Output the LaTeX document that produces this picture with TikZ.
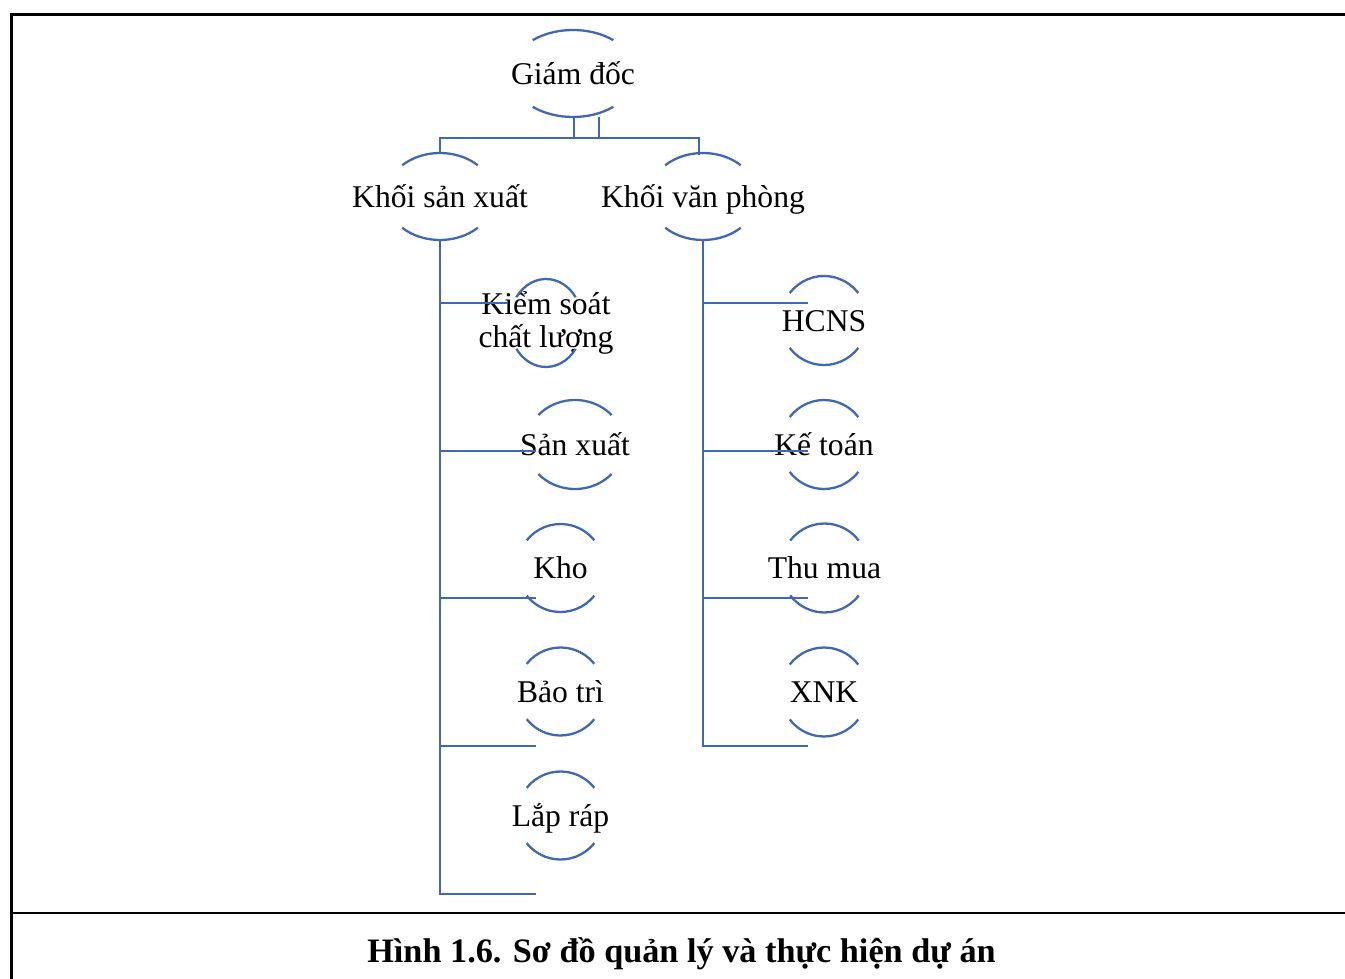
\documentclass[tikz,border=0pt]{standalone}
\usepackage{fontspec}
\setmainfont{Liberation Serif}
\usetikzlibrary{calc}
\definecolor{smartblue}{RGB}{62,104,178}
\tikzset{
  ring/.style={draw=smartblue,line width=1.3pt},
  link/.style={draw=smartblue,line width=1.3pt},
  unit/.style={inner sep=0pt,text height=14pt,text depth=2pt,font=\fontsize{18}{19}\selectfont},
  frame/.style={line width=1.4pt}
}
% top and bottom arc round a unit: node, x radius, y radius, angle
\newcommand\ringarcs[4]{%
  \draw[ring](#1.center)++(180+#4:#2 and #3)arc[start angle=180+#4,end angle=360-#4,x radius=#2,y radius=#3];
  \draw[ring](#1.center)++(#4:#2 and #3)arc[start angle=#4,end angle=180-#4,x radius=#2,y radius=#3];
}
\begin{document}
\begin{tikzpicture}[x=0.02cm,y=-0.02cm]
\useasboundingbox(0,0)rectangle(1345,979);
\draw[frame](1345,14.5)--(11.5,14.5)--(11.5,979);
\draw[frame](11.5,913)--(1345,913);
%
\node[unit](gd) at (573,73.5){Giám đốc};
\node[unit](ksx) at (440,196.5){Khối sản xuất};
\node[unit](kvp) at (703,196.5){Khối văn phòng};
\ringarcs{gd}{62.7}{43.5}{50}
\ringarcs{ksx}{54.3}{43.5}{46}
\ringarcs{kvp}{54.3}{43.5}{46}
%
\node[inner sep=0pt,align=center,font=\fontsize{18}{19}\selectfont](ks) at (546,323){Kiểm soát\\chất lượng};
\node[unit](sx) at (575,444.5){Sản xuất};
\node[unit](kho) at (560.5,568){Kho};
\node[unit](bt) at (560.5,691.5){Bảo trì};
\node[unit](lr) at (560.5,815.5){Lắp ráp};
\ringarcs{ks}{36.6}{44}{36}
\ringarcs{sx}{48.8}{44.5}{41.5}
\ringarcs{kho}{43.5}{44}{39}
\ringarcs{bt}{43.5}{44}{39}
\ringarcs{lr}{43.5}{44}{39}
%
\node[unit](hc) at (824,320.5){HCNS};
\node[unit](kt) at (824,444.5){Kế toán};
\node[unit](tm) at (824.5,568){Thu mua};
\node[unit](xnk) at (824,692){XNK};
\ringarcs{hc}{43.5}{44.5}{38}
\ringarcs{kt}{43.5}{44.5}{38}
\ringarcs{tm}{43.5}{44.5}{38}
\ringarcs{xnk}{43.5}{44.5}{38}
%
\draw[link]($(gd.center)+(1,43.5)$)--++(0,21)-|($(kvp.center)+(-4,-41.5)$);
\draw[link]($(gd.center)+(26,43.5)$)--++(0,21)-|($(ksx.center)+(0,-43.5)$);
%
\coordinate(ks-in) at (508,303);
\coordinate(sx-in) at (536,451);
\coordinate(kho-in) at (536,598);
\coordinate(bt-in) at (536,746);
\coordinate(lr-in) at (536,894);
\draw[link]($(ksx.center)+(0,43.5)$)|-(ks-in);
\draw[link]($(ksx.center)+(0,43.5)$)|-(sx-in);
\draw[link]($(ksx.center)+(0,43.5)$)|-(kho-in);
\draw[link]($(ksx.center)+(0,43.5)$)|-(bt-in);
\draw[link]($(ksx.center)+(0,43.5)$)|-(lr-in);
%
\coordinate(hc-in) at (808,303);
\coordinate(kt-in) at (808,451);
\coordinate(tm-in) at (808,598);
\coordinate(xnk-in) at (808,746);
\draw[link]($(kvp.center)+(0,43.5)$)|-(hc-in);
\draw[link]($(kvp.center)+(0,43.5)$)|-(kt-in);
\draw[link]($(kvp.center)+(0,43.5)$)|-(tm-in);
\draw[link]($(kvp.center)+(0,43.5)$)|-(xnk-in);
%
\node[font=\fontsize{19.5}{20}\selectfont\bfseries](cap) at (681.5,954){Hình 1.6. Sơ đồ quản lý và thực hiện dự án};
\end{tikzpicture}
\end{document}
